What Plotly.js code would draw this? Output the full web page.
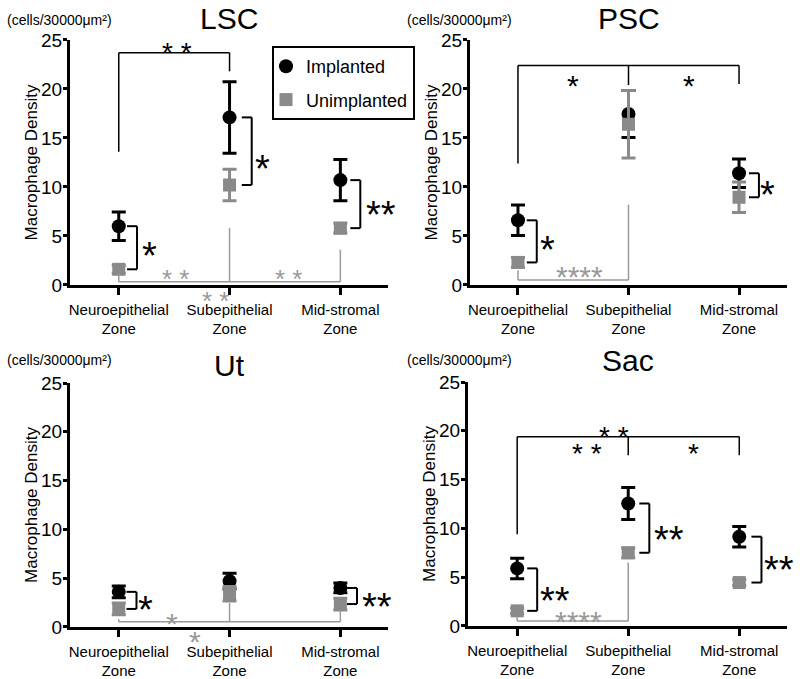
<!DOCTYPE html>
<html>
<head>
<meta charset="utf-8">
<script src="https://cdn.plot.ly/plotly-3.0.1.min.js"></script>
<style>html,body{margin:0;padding:0;background:#fff;}#chart{width:800px;height:679px;}</style>
</head>
<body>
<div id="chart"></div>
<script>
// ---------- data ----------
const zones = ['Neuroepithelial<br>Zone', 'Subepithelial<br>Zone', 'Mid-stromal<br>Zone'];
const panelTitles = ['LSC', 'PSC', 'Ut', 'Sac'];
const seriesNames = ['Implanted', 'Unimplanted'];
const yTickValues = [0, 5, 10, 15, 20, 25];

const lscImplanted = [6.0, 17.1, 10.7];
const lscImplantedSEM = [1.45, 3.65, 2.1];
const lscUnimplanted = [1.6, 10.2, 5.8];
const lscUnimplantedSEM = [0.4, 1.6, 0.5];

const pscImplanted = [6.6, 17.45, 11.4];
const pscImplantedSEM = [1.55, 2.4, 1.45];
const pscUnimplanted = [2.3, 16.4, 8.95];
const pscUnimplantedSEM = [0.5, 3.45, 1.55];

const utImplanted = [3.6, 4.7, 4.0];
const utImplantedSEM = [0.6, 0.8, 0.5];
const utUnimplanted = [1.85, 3.4, 2.35];
const utUnimplantedSEM = [0.6, 0.75, 0.6];

const sacImplanted = [5.9, 12.55, 9.15];
const sacImplantedSEM = [1.05, 1.65, 1.05];
const sacUnimplanted = [1.55, 7.5, 4.45];
const sacUnimplantedSEM = [0.3, 0.5, 0.3];

// significance labels (implanted vs unimplanted, per zone)
const lscZoneSig = ['*', '*', '**'];
const pscZoneSig = ['*', '', '*'];
const utZoneSig = ['*', '', '**'];
const sacZoneSig = ['**', '**', '**'];

// ---------- layout configuration ----------
const FONT = 'Liberation Sans, Arial, Helvetica, sans-serif';
const BLACK = '#000000';
const GREY = '#8a8a8a';
const GREY_LINE = '#9a9a9a';
const GREY_TEXT = '#999999';
const Y_MAX = 25;

const panels = [
  { title: panelTitles[0], impl: lscImplanted, implSEM: lscImplantedSEM, un: lscUnimplanted, unSEM: lscUnimplantedSEM,
    zoneSig: lscZoneSig, xdom: [0.0875, 0.485], xr: [-0.44, 2.43], ydom: [0.5803, 0.9411],
    unitY: 1 - 20 / 679, unitX: 5 / 800, titleY: 1 - 18 / 679,
    pairX: [0.165, 1.2, 2.18], pairLab: [[0.28, 3.85], [1.30, 12.75], [2.37, 8.0]],
    top: { xs: [0, 1], ends: [13.6, 21.8], level: 23.7, labels: [[0.53, 24.4, '* *']] },
    bottom: { xs: [0, 1, 2], ends: [1.2, 5.8, 3.6], level: 0.34,
      labels: [[0.51, 1.2, '* *'], [1.53, 1.2, '* *'], [0.87, -1.0, '* *']], size: 26 } },
  { title: panelTitles[1], impl: pscImplanted, implSEM: pscImplantedSEM, un: pscUnimplanted, unSEM: pscUnimplantedSEM,
    zoneSig: pscZoneSig, xdom: [0.5875, 0.98375], xr: [-0.434, 2.434], ydom: [0.5803, 0.9411],
    unitY: 1 - 20 / 679, unitX: 405 / 800, titleY: 1 - 18 / 679,
    pairX: [0.17, 1.2, 2.18], pairLab: [[0.27, 4.5], null, [2.26, 10.1]],
    top: { xs: [0, 1, 2], ends: [12.4, 20.4, 20.5], level: 22.4, labels: [[0.5, 21.1, '*'], [1.55, 21.1, '*']], size: 30 },
    bottom: { xs: [0, 1], ends: [1.5, 8.2], level: 0.5, labels: [[0.56, 1.53, '****']], size: 30 } },
  { title: panelTitles[2], impl: utImplanted, implSEM: utImplantedSEM, un: utUnimplanted, unSEM: utUnimplantedSEM,
    zoneSig: utZoneSig, xdom: [0.0875, 0.485], xr: [-0.44, 2.43], ydom: [0.0766, 0.4359],
    unitY: 1 - 360 / 679, unitX: 5 / 800, titleY: 1 - 365 / 679,
    pairX: [0.16, 1.2, 2.15], pairLab: [[0.24, 2.6], null, [2.33, 2.96]],
    top: null,
    bottom: { xs: [0, 1, 2], ends: [0.8, 2.46, 1.7], level: 0.54, labels: [[0.48, 1.05, '*'], [0.69, -0.78, '*']], size: 30 } },
  { title: panelTitles[3], impl: sacImplanted, implSEM: sacImplantedSEM, un: sacUnimplanted, unSEM: sacUnimplantedSEM,
    zoneSig: sacZoneSig, xdom: [0.585, 0.98375], xr: [-0.443, 2.43], ydom: [0.0781, 0.4374],
    unitY: 1 - 360 / 679, unitX: 405 / 800, titleY: 1 - 360 / 679,
    pairX: [0.18, 1.19, 2.2], pairLab: [[0.34, 3.5], [1.37, 9.75], [2.36, 6.58]],
    top: { xs: [0, 1, 2], ends: [9.4, 17.5, 17.5], level: 19.4,
      labels: [[0.87, 20.05, '* *'], [0.63, 18.3, '* *'], [1.59, 18.3, '*']], size: 28 },
    bottom: { xs: [0, 1], ends: [0.95, 6.5], level: 0.51, labels: [[0.55, 1.13, '****']], size: 30 } }
];

const traces = [];
const shapes = [];
const annotations = [];
const layout = {
  width: 800, height: 679,
  margin: { l: 0, r: 0, t: 0, b: 0 },
  paper_bgcolor: '#ffffff', plot_bgcolor: 'rgba(0,0,0,0)',
  font: { family: FONT, color: BLACK },
  showlegend: true,
  legend: {
    x: 272 / 800, y: 1 - 46 / 679, xanchor: 'left', yanchor: 'top',
    bordercolor: BLACK, borderwidth: 2, bgcolor: '#ffffff',
    font: { size: 18, family: FONT, color: BLACK },
    traceorder: 'grouped', tracegroupgap: 7, itemsizing: 'trace', indentation: -8
  }
};

function starShift(size) { return -0.23 * size; }

panels.forEach((p, i) => {
  const sfx = i === 0 ? '' : String(i + 1);
  const xref = 'x' + sfx, yref = 'y' + sfx;

  layout['xaxis' + sfx] = {
    domain: p.xdom, range: p.xr, anchor: yref, type: 'category',
    categoryorder: 'array', categoryarray: zones,
    showline: true, linewidth: 3, linecolor: BLACK,
    ticks: 'outside', ticklen: 7, tickwidth: 3, tickcolor: BLACK,
    showgrid: false, zeroline: false, fixedrange: true, automargin: false,
    tickfont: { size: 15, family: FONT, color: BLACK }, ticklabelstandoff: 2
  };
  layout['yaxis' + sfx] = {
    domain: p.ydom, range: [0, Y_MAX], anchor: xref,
    tickmode: 'array', tickvals: yTickValues,
    showline: true, linewidth: 3, linecolor: BLACK,
    ticks: 'outside', ticklen: 4, tickwidth: 3, tickcolor: BLACK,
    showgrid: false, zeroline: false, fixedrange: true, automargin: false,
    tickfont: { size: 19, family: FONT, color: BLACK }, ticklabelstandoff: -3,
    title: { text: 'Macrophage Density', font: { size: 17, family: FONT, color: BLACK }, standoff: 0 }
  };

  traces.push({
    type: 'scatter', mode: 'markers', name: seriesNames[0], legendgroup: 'impl',
    showlegend: i === 0, x: zones, y: p.impl, xaxis: xref, yaxis: yref, cliponaxis: false,
    marker: { symbol: 'circle', size: 14, color: BLACK },
    error_y: { type: 'data', array: p.implSEM, visible: true, color: BLACK, thickness: 3, width: 7 }
  });
  traces.push({
    type: 'scatter', mode: 'markers', name: seriesNames[1], legendgroup: 'unimpl',
    showlegend: i === 0, x: zones, y: p.un, xaxis: xref, yaxis: yref, cliponaxis: false,
    marker: { symbol: 'square', size: 13, color: GREY },
    error_y: { type: 'data', array: p.unSEM, visible: true, color: GREY, thickness: 3, width: 7 }
  });

  const ln = (x0, y0, x1, y1, color, w) => shapes.push({
    type: 'line', xref, yref, x0, y0, x1, y1, layer: 'above', line: { color, width: w }
  });
  // star labels placed in paper y so that labels below the axis are still drawn
  const toPaperY = v => p.ydom[0] + (v / Y_MAX) * (p.ydom[1] - p.ydom[0]);
  const star = (x, y, text, size, color) => annotations.push({
    xref, yref: 'paper', x, y: toPaperY(y), text, showarrow: false, xanchor: 'center', yanchor: 'middle',
    yshift: starShift(size), font: { size, family: FONT, color }
  });

  // implanted vs unimplanted brackets
  p.zoneSig.forEach((sig, z) => {
    if (!sig) return;
    const bx = p.pairX[z], cap = 0.09;
    ln(bx - cap, p.impl[z], bx, p.impl[z], BLACK, 2);
    ln(bx, p.impl[z], bx, p.un[z], BLACK, 2);
    ln(bx - cap, p.un[z], bx, p.un[z], BLACK, 2);
    star(p.pairLab[z][0], p.pairLab[z][1], sig, 38, BLACK);
  });

  // implanted between-zone bracket (black, top)
  if (p.top) {
    const t = p.top;
    ln(t.xs[0], t.level, t.xs[t.xs.length - 1], t.level, BLACK, 1.5);
    t.xs.forEach((x, k) => ln(x, t.level, x, t.ends[k], BLACK, 1.5));
    t.labels.forEach(l => star(l[0], l[1], l[2], t.size || 28, BLACK));
  }
  // unimplanted between-zone bracket (grey, bottom)
  if (p.bottom) {
    const b = p.bottom;
    ln(b.xs[0], b.level, b.xs[b.xs.length - 1], b.level, GREY_LINE, 1.5);
    b.xs.forEach((x, k) => ln(x, b.level, x, b.ends[k], GREY_LINE, 1.5));
    b.labels.forEach(l => star(l[0], l[1], l[2], b.size || 26, GREY_TEXT));
  }

  // panel title and unit label
  annotations.push({
    xref: xref + ' domain', yref: 'paper', x: 0.5, y: p.titleY, text: p.title, showarrow: false,
    xanchor: 'center', yanchor: 'middle', font: { size: 30, family: FONT, color: BLACK }
  });
  annotations.push({
    xref: 'paper', yref: 'paper', x: p.unitX, y: p.unitY, text: '(cells/30000μm²)', showarrow: false,
    xanchor: 'left', yanchor: 'middle', font: { size: 14, family: FONT, color: BLACK }
  });
});

layout.shapes = shapes;
layout.annotations = annotations;

Plotly.newPlot('chart', traces, layout, { displayModeBar: false, staticPlot: true });
</script>
</body>
</html>
